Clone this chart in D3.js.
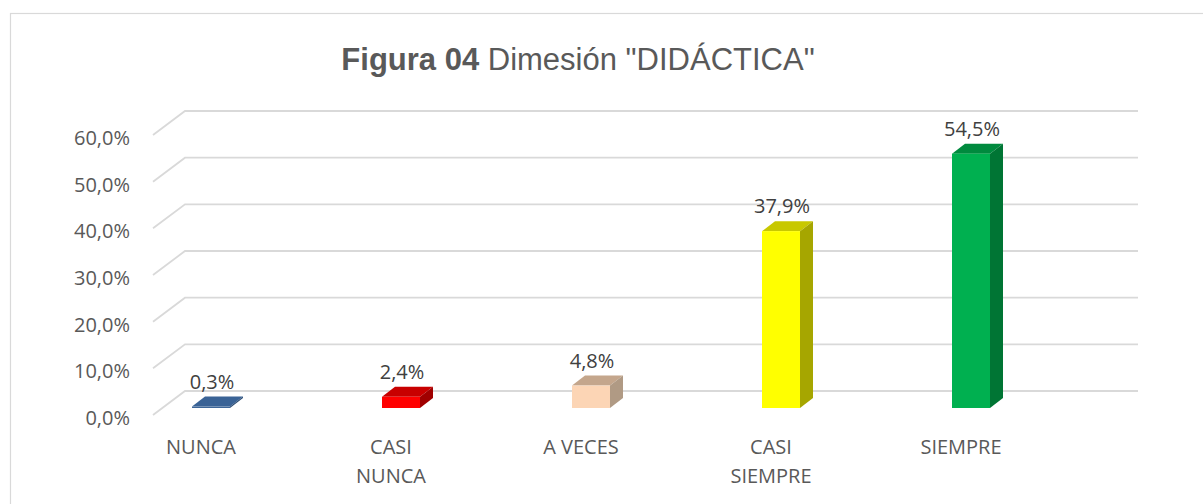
<!DOCTYPE html>
<html>
<head>
<meta charset="utf-8">
<script src="https://cdn.jsdelivr.net/npm/d3@7"></script>
<style>
  html, body { margin: 0; padding: 0; background: #ffffff; }
  svg { display: block; }
</style>
</head>
<body>
<svg id="chart" width="1203" height="504"></svg>
<script>
// ---- data ----
const categories = ["NUNCA", "CASI NUNCA", "A VECES", "CASI SIEMPRE", "SIEMPRE"];
const categoryLines = [["NUNCA"], ["CASI", "NUNCA"], ["A VECES"], ["CASI", "SIEMPRE"], ["SIEMPRE"]];
const values = [0.3, 2.4, 4.8, 37.9, 54.5];
const valueLabels = ["0,3%", "2,4%", "4,8%", "37,9%", "54,5%"];
const yTicks = [0, 10, 20, 30, 40, 50, 60];
const yTickLabels = ["0,0%", "10,0%", "20,0%", "30,0%", "40,0%", "50,0%", "60,0%"];
const frontColors = ["#3d6698", "#ff0000", "#fcd5b5", "#ffff00", "#00b050"];
const topColors   = ["#3a6396", "#c80000", "#c4a68c", "#c8c800", "#008a3e"];
const sideColors  = ["#2c4d75", "#a00000", "#b09a84", "#a6a600", "#007534"];

// ---- layout ----
const svg = d3.select("#chart");
const y = d3.scaleLinear().domain([0, 60]).range([408, 128]);
const x = d3.scaleBand().domain(categories).range([116, 1066]).paddingInner(0.8).paddingOuter(0.4);
const gridColor = "#d9d9d9";
const backDx = 32, backDy = -24, frontDy = 7;   // wall depth
const barDx = 13, barDy = -10;                   // bar depth

// outer frame
svg.append("rect").attr("x", 10.5).attr("y", 13.5).attr("width", 1400).attr("height", 700)
  .attr("fill", "none").attr("stroke", gridColor).attr("stroke-width", 1.2);

// title
const title = svg.append("text").attr("x", 578).attr("y", 70).attr("text-anchor", "middle")
  .attr("font-family", "Liberation Sans, Arial, sans-serif").attr("font-size", 31).attr("fill", "#595959");
title.append("tspan").attr("font-weight", "bold").text("Figura 04");
title.append("tspan").text(" Dimesión \"DIDÁCTICA\"");

// gridlines (back wall + side diagonal)
const grid = svg.append("g");
yTicks.forEach(t => {
  const yf = y(t) + frontDy;
  const yb = yf + backDy;
  grid.append("path")
    .attr("d", `M153,${yf} L${153 + backDx},${yb} L1138,${yb}`)
    .attr("fill", "none").attr("stroke", gridColor).attr("stroke-width", 1.8);
});

// y-axis labels
svg.append("g").selectAll("text").data(yTicks).join("text")
  .attr("x", 130).attr("y", d => y(d) + frontDy + 3).attr("dy", "0.35em")
  .attr("text-anchor", "end").attr("font-family", "Open Sans, sans-serif").attr("font-size", 20)
  .attr("fill", "#595959").text((d, i) => yTickLabels[i]);

// bars
const bars = svg.append("g");
categories.forEach((c, i) => {
  const x0 = x(c), w = x.bandwidth();
  const y0 = y(0), y1 = y(values[i]);
  // top face
  bars.append("path")
    .attr("d", `M${x0},${y1} L${x0 + barDx},${y1 + barDy} L${x0 + w + barDx},${y1 + barDy} L${x0 + w},${y1} Z`)
    .attr("fill", topColors[i]);
  // side face
  bars.append("path")
    .attr("d", `M${x0 + w},${y1} L${x0 + w + barDx},${y1 + barDy} L${x0 + w + barDx},${y0 + barDy} L${x0 + w},${y0} Z`)
    .attr("fill", sideColors[i]);
  // front face
  bars.append("rect").attr("x", x0).attr("y", y1).attr("width", w).attr("height", y0 - y1)
    .attr("fill", frontColors[i]);
  // value label
  bars.append("text")
    .attr("x", x0 + w / 2 + 1).attr("y", y1 + barDy - 8)
    .attr("text-anchor", "middle").attr("font-family", "Open Sans, sans-serif").attr("font-size", 20)
    .attr("fill", "#404040").text(valueLabels[i]);
});

// category labels
const cat = svg.append("g");
categories.forEach((c, i) => {
  const cx = x(c) + x.bandwidth() / 2 - 10;
  categoryLines[i].forEach((line, j) => {
    cat.append("text").attr("x", cx).attr("y", 454 + j * 29)
      .attr("text-anchor", "middle").attr("font-family", "Open Sans, sans-serif").attr("font-size", 20)
      .attr("fill", "#595959").text(line);
  });
});
</script>
</body>
</html>
